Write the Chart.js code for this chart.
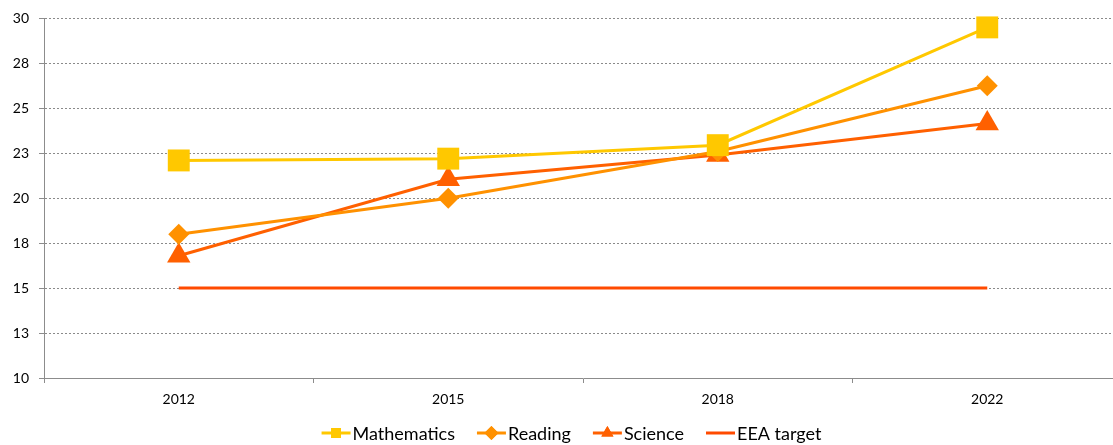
<!DOCTYPE html>
<html>
<head>
<meta charset="utf-8">
<script src="https://cdn.jsdelivr.net/npm/chart.js@4/dist/chart.umd.min.js"></script>
<style>
  html, body { margin: 0; padding: 0; background: #fff; overflow: hidden; }
  /* the plot area runs a few pixels past the right edge, as in the original */
  #wrap { width: 1113px; height: 445px; overflow: hidden; }
</style>
</head>
<body>
<div id="wrap"><canvas id="chart" width="1122" height="445"></canvas></div>
<script>
// Data
const years = ['2012', '2015', '2018', '2022'];
const mathematics = [22.1, 22.2, 22.95, 29.5];
const reading = [18.0, 20.0, 22.6, 26.25];
const science = [16.8, 21.05, 22.4, 24.15];
const eeaTarget = [15, 15, 15, 15];

const seriesNames = ['Mathematics', 'Reading', 'Science', 'EEA target'];
const seriesColors = ['#FFC800', '#FF9100', '#FF6000', '#FF4A00'];
const seriesMarkers = ['rect', 'rectRot', 'triangle', false];

const FONT = 'Lato, "Liberation Sans", sans-serif';
const VISIBLE_WIDTH = 1113;

// Excel-like legend: short line with the marker on it
const lineLegend = {
    id: 'lineLegend',
    afterDraw(chart) {
        const ctx = chart.ctx;
        const y = 433;
        const lineLen = 29;
        const textGap = 2;
        const gap = 22;
        ctx.save();
        ctx.font = '18px ' + FONT;
        ctx.textBaseline = 'middle';
        const widths = seriesNames.map(n => lineLen + textGap + ctx.measureText(n).width);
        const total = widths.reduce((a, b) => a + b, 0) + gap * (widths.length - 1);
        let x = (VISIBLE_WIDTH - total) / 2 + 15;
        seriesNames.forEach((name, i) => {
            ctx.strokeStyle = seriesColors[i];
            ctx.lineWidth = 3;
            ctx.beginPath();
            ctx.moveTo(x, y);
            ctx.lineTo(x + lineLen, y);
            ctx.stroke();
            if (seriesMarkers[i]) {
                ctx.fillStyle = seriesColors[i];
                Chart.helpers.drawPoint(ctx, { pointStyle: seriesMarkers[i], radius: 7, borderWidth: 0 }, x + lineLen / 2, y);
                ctx.fill();
            }
            ctx.fillStyle = '#000';
            ctx.fillText(name, x + lineLen + textGap, y + 1);
            x += widths[i] + gap;
        });
        ctx.restore();
    }
};

const datasets = [
    {
        label: seriesNames[0], data: mathematics,
        borderColor: seriesColors[0], backgroundColor: seriesColors[0],
        pointStyle: 'rect', pointRadius: 15.5, pointHoverRadius: 15.5
    },
    {
        label: seriesNames[1], data: reading,
        borderColor: seriesColors[1], backgroundColor: seriesColors[1],
        pointStyle: 'rectRot', pointRadius: 10.5, pointHoverRadius: 10.5
    },
    {
        label: seriesNames[2], data: science,
        borderColor: seriesColors[2], backgroundColor: seriesColors[2],
        pointStyle: 'triangle', pointRadius: 13.5, pointHoverRadius: 13.5
    },
    {
        label: seriesNames[3], data: eeaTarget,
        borderColor: seriesColors[3], backgroundColor: seriesColors[3],
        pointRadius: 0, pointHoverRadius: 0
    }
].map(ds => Object.assign({ borderWidth: 3, pointBorderWidth: 0, tension: 0, fill: false, clip: false }, ds));

new Chart(document.getElementById('chart'), {
    type: 'line',
    data: { labels: years, datasets: datasets },
    options: {
        responsive: false,
        animation: false,
        layout: { autoPadding: false, padding: { top: 9, right: 0, left: 0, bottom: 30 } },
        plugins: {
            legend: { display: false },
            tooltip: { enabled: false }
        },
        scales: {
            x: {
                offset: true,
                grid: {
                    offset: true,
                    drawOnChartArea: false,
                    drawTicks: true,
                    tickLength: 5,
                    tickColor: '#8c8c8c',
                    tickWidth: 1
                },
                border: { color: '#8c8c8c', width: 1 },
                ticks: {
                    color: '#000',
                    font: { family: FONT, size: 14 },
                    padding: 8,
                    maxRotation: 0
                },
                afterFit(scale) {
                    scale.height = 37;
                    scale.paddingRight = 0;
                    scale.paddingLeft = 0;
                }
            },
            y: {
                min: 10,
                max: 30,
                grid: {
                    color: '#8a8a8a',
                    lineWidth: 1,
                    drawTicks: true,
                    tickLength: 5,
                    tickColor: '#8c8c8c',
                    tickBorderDash: []
                },
                border: { color: '#8c8c8c', width: 1, dash: [2, 2] },
                ticks: {
                    stepSize: 2.5,
                    color: '#000',
                    font: { family: FONT, size: 14 },
                    padding: 10,
                    callback: v => Math.round(v)
                },
                afterFit(scale) { scale.width = 44; }
            }
        }
    },
    plugins: [lineLegend]
});
</script>
</body>
</html>
